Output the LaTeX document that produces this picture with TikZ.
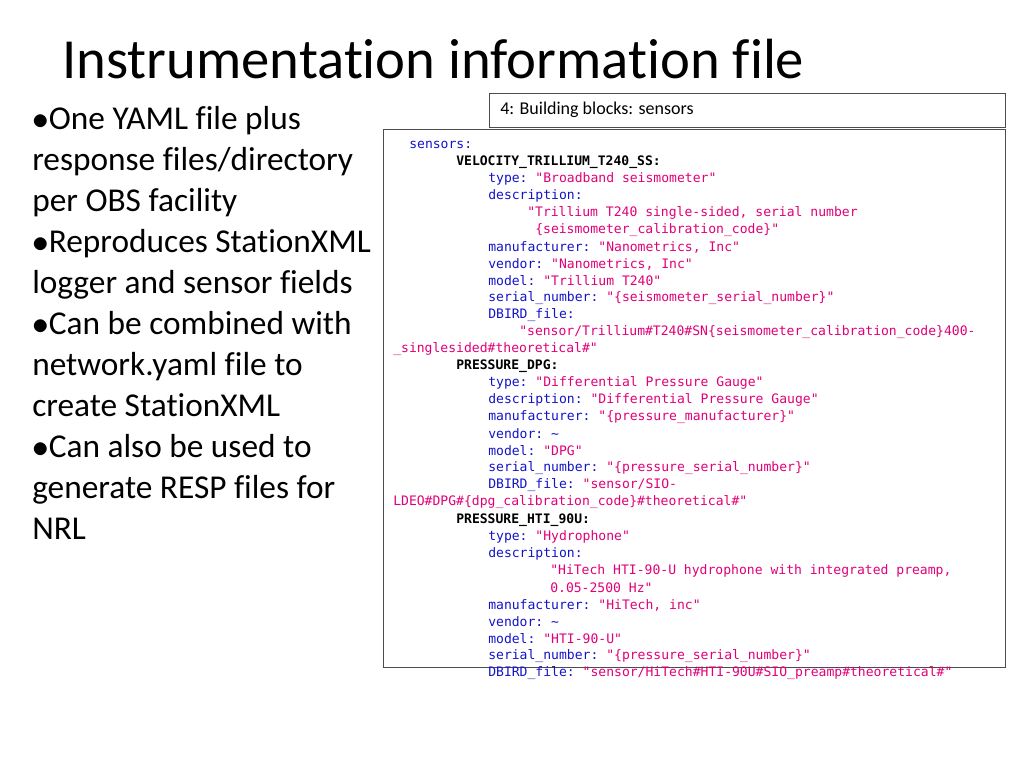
\documentclass[tikz,border=0pt]{standalone}
\usepackage{fontspec}
\setmainfont{Carlito}[Ligatures=NoCommon]
\setmonofont{DejaVu Sans Mono}
\usetikzlibrary{positioning}
\definecolor{keyblue}{RGB}{20,20,200}
\definecolor{strpink}{RGB}{225,0,120}
\tikzset{
  code/.style={anchor=west, inner sep=0pt, yshift=-1.5pt, font=\ttfamily\fontsize{9.8}{12}\selectfont},
  bullet/.style={anchor=north west, inner sep=0pt, align=left,
    font=\fontsize{25}{30.75}\selectfont},
}
% key: value line
\newcommand{\kv}[4]{\node[code] (#1) at #2 {\textcolor{keyblue}{#3}\textcolor{strpink}{#4}};}
\newcommand{\sv}[3]{\node[code, text=strpink] (#1) at #2 {#3};}
\newcommand{\hd}[3]{\node[code, font=\ttfamily\bfseries\fontsize{9.8}{12}\selectfont] (#1) at #2 {#3};}
\begin{document}
\begin{tikzpicture}[x=0.75pt, y=-0.75pt]
\useasboundingbox (0,0) rectangle (1024,768);
% title
\node[anchor=base west, inner sep=0pt, font=\fontsize{42.5}{48}\selectfont] (title) at (62,78) {Instrumentation information file};
% bullets
\node[bullet] (bullets) at (32,106) {$\bullet$One YAML file plus\\
response files/directory\\
per OBS facility\\
$\bullet$Reproduces StationXML\\
logger and sensor fields\\
$\bullet$Can be combined with\\
network.yaml file to\\
create StationXML\\
$\bullet$Can also be used to\\
generate RESP files for\\
NRL};
% boxes
\draw[gray!60!black] (489,93) rectangle (1005,127);
\node[anchor=west, inner sep=0pt, font=\fontsize{13.5}{16}\selectfont] (hdr) at (500,110) {4: Building blocks: sensors};
\draw[gray!60!black, fill=white] (383,129) rectangle (1005,667);
% yaml listing
\kv{l1}{(409,143)}{sensors:}{}
\hd{l2}{(456,160)}{VELOCITY\_TRILLIUM\_T240\_SS:}
\kv{l3}{(488,177)}{type: }{"Broadband seismometer"}
\kv{l4}{(488,194)}{description:}{}
\sv{l5}{(527,211)}{"Trillium T240 single-sided, serial number}
\sv{l6}{(535,228)}{\{seismometer\_calibration\_code\}"}
\kv{l7}{(488,245)}{manufacturer: }{"Nanometrics, Inc"}
\kv{l8}{(488,262)}{vendor: }{"Nanometrics, Inc"}
\kv{l9}{(488,279)}{model: }{"Trillium T240"}
\kv{l10}{(488,296)}{serial\_number: }{"\{seismometer\_serial\_number\}"}
\kv{l11}{(488,313)}{DBIRD\_file:}{}
\sv{l12}{(519,330)}{"sensor/Trillium\#T240\#SN\{seismometer\_calibration\_code\}400-}
\sv{l13}{(393,347)}{\_singlesided\#theoretical\#"}
\hd{l14}{(456,364)}{PRESSURE\_DPG:}
\kv{l15}{(488,381)}{type: }{"Differential Pressure Gauge"}
\kv{l16}{(488,398)}{description: }{"Differential Pressure Gauge"}
\kv{l17}{(488,415)}{manufacturer: }{"\{pressure\_manufacturer\}"}
\kv{l18}{(488,432)}{vendor: \textasciitilde}{}
\kv{l19}{(488,449)}{model: }{"DPG"}
\kv{l20}{(488,466)}{serial\_number: }{"\{pressure\_serial\_number\}"}
\kv{l21}{(488,483)}{DBIRD\_file: }{"sensor/SIO-}
\sv{l22}{(393,500)}{LDEO\#DPG\#\{dpg\_calibration\_code\}\#theoretical\#"}
\hd{l23}{(456,518)}{PRESSURE\_HTI\_90U:}
\kv{l24}{(488,535)}{type: }{"Hydrophone"}
\kv{l25}{(488,552)}{description:}{}
\sv{l26}{(550,569)}{"HiTech HTI-90-U hydrophone with integrated preamp,}
\sv{l27}{(550,586)}{0.05-2500 Hz"}
\kv{l28}{(488,603)}{manufacturer: }{"HiTech, inc"}
\kv{l29}{(488,620)}{vendor: \textasciitilde}{}
\kv{l30}{(488,637)}{model: }{"HTI-90-U"}
\kv{l31}{(488,654)}{serial\_number: }{"\{pressure\_serial\_number\}"}
\kv{l32}{(488,671)}{DBIRD\_file: }{"sensor/HiTech\#HTI-90U\#SIO\_preamp\#theoretical\#"}
\end{tikzpicture}
\end{document}
